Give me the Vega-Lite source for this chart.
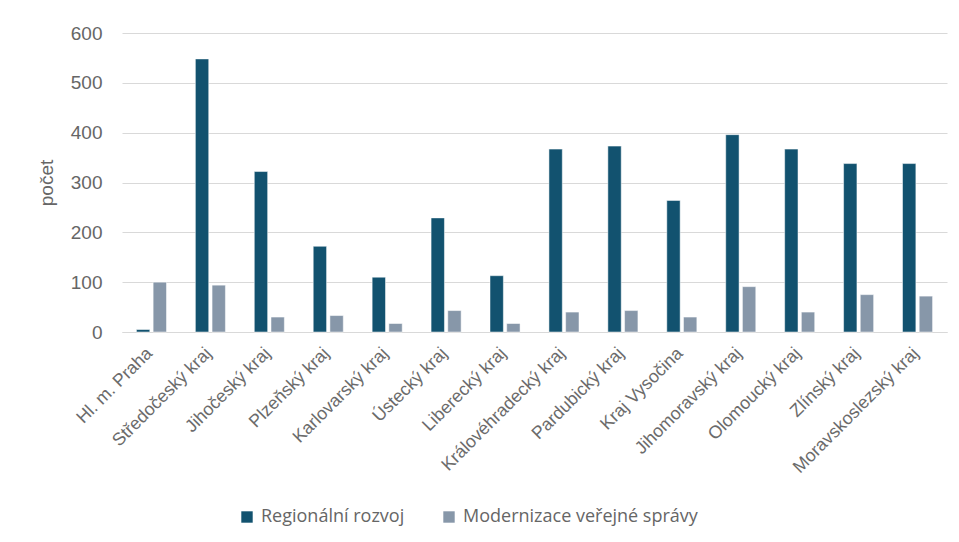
{
  "$schema": "https://vega.github.io/schema/vega-lite/v6.json",
  "autosize": "none",
  "width": 825,
  "height": 299,
  "padding": {"left": 122, "top": 33, "right": 12, "bottom": 210},
  "background": "white",
  "data": {
    "values": [
      {"kraj": "Hl. m. Praha", "serie": "Regionální rozvoj", "pocet": 5},
      {"kraj": "Hl. m. Praha", "serie": "Modernizace veřejné správy", "pocet": 100},
      {"kraj": "Středočeský kraj", "serie": "Regionální rozvoj", "pocet": 548},
      {"kraj": "Středočeský kraj", "serie": "Modernizace veřejné správy", "pocet": 94},
      {"kraj": "Jihočeský kraj", "serie": "Regionální rozvoj", "pocet": 322},
      {"kraj": "Jihočeský kraj", "serie": "Modernizace veřejné správy", "pocet": 30},
      {"kraj": "Plzeňský kraj", "serie": "Regionální rozvoj", "pocet": 172},
      {"kraj": "Plzeňský kraj", "serie": "Modernizace veřejné správy", "pocet": 33},
      {"kraj": "Karlovarský kraj", "serie": "Regionální rozvoj", "pocet": 110},
      {"kraj": "Karlovarský kraj", "serie": "Modernizace veřejné správy", "pocet": 17},
      {"kraj": "Ústecký kraj", "serie": "Regionální rozvoj", "pocet": 229},
      {"kraj": "Ústecký kraj", "serie": "Modernizace veřejné správy", "pocet": 43},
      {"kraj": "Liberecký kraj", "serie": "Regionální rozvoj", "pocet": 113},
      {"kraj": "Liberecký kraj", "serie": "Modernizace veřejné správy", "pocet": 17},
      {"kraj": "Královéhradecký kraj", "serie": "Regionální rozvoj", "pocet": 367},
      {"kraj": "Královéhradecký kraj", "serie": "Modernizace veřejné správy", "pocet": 40},
      {"kraj": "Pardubický kraj", "serie": "Regionální rozvoj", "pocet": 373},
      {"kraj": "Pardubický kraj", "serie": "Modernizace veřejné správy", "pocet": 43},
      {"kraj": "Kraj Vysočina", "serie": "Regionální rozvoj", "pocet": 264},
      {"kraj": "Kraj Vysočina", "serie": "Modernizace veřejné správy", "pocet": 30},
      {"kraj": "Jihomoravský kraj", "serie": "Regionální rozvoj", "pocet": 396},
      {"kraj": "Jihomoravský kraj", "serie": "Modernizace veřejné správy", "pocet": 91},
      {"kraj": "Olomoucký kraj", "serie": "Regionální rozvoj", "pocet": 367},
      {"kraj": "Olomoucký kraj", "serie": "Modernizace veřejné správy", "pocet": 40},
      {"kraj": "Zlínský kraj", "serie": "Regionální rozvoj", "pocet": 338},
      {"kraj": "Zlínský kraj", "serie": "Modernizace veřejné správy", "pocet": 75},
      {"kraj": "Moravskoslezský kraj", "serie": "Regionální rozvoj", "pocet": 338},
      {"kraj": "Moravskoslezský kraj", "serie": "Modernizace veřejné správy", "pocet": 72}
    ]
  },
  "mark": {"type": "bar", "stroke": "white", "strokeWidth": 0.5},
  "encoding": {
    "x": {
      "field": "kraj",
      "type": "nominal",
      "sort": null,
      "title": null,
      "scale": {"paddingInner": 0.49, "paddingOuter": 0.245},
      "axis": {
        "labelAngle": -45,
        "labelFont": "Liberation Sans",
        "labelFontSize": 17.8,
        "labelColor": "#6b6b6b",
        "labelPadding": 12,
        "labelOffset": -8,
        "labelLimit": 0,
        "ticks": false,
        "domainColor": "#d9d9d9",
        "domainWidth": 1,
        "grid": false
      }
    },
    "xOffset": {
      "field": "serie",
      "type": "nominal",
      "sort": ["Regionální rozvoj", "Modernizace veřejné správy"],
      "scale": {"paddingInner": 0.2}
    },
    "y": {
      "field": "pocet",
      "type": "quantitative",
      "title": "počet",
      "scale": {"domain": [0, 600]},
      "axis": {
        "values": [0, 100, 200, 300, 400, 500, 600],
        "labelFont": "Liberation Sans",
        "labelFontSize": 19,
        "labelColor": "#666666",
        "labelPadding": 20,
        "ticks": false,
        "domain": false,
        "gridColor": "#d9d9d9",
        "titleFont": "Liberation Sans",
        "titleFontSize": 19,
        "titleFontWeight": "normal",
        "titleColor": "#666666",
        "titlePadding": 14
      }
    },
    "color": {
      "field": "serie",
      "type": "nominal",
      "sort": ["Regionální rozvoj", "Modernizace veřejné správy"],
      "scale": {
        "domain": ["Regionální rozvoj", "Modernizace veřejné správy"],
        "range": ["#12526f", "#8797a9"]
      },
      "legend": {
        "title": null,
        "orient": "none",
        "direction": "horizontal",
        "legendX": 116,
        "legendY": 475,
        "symbolType": "square",
        "symbolSize": 130,
        "symbolStrokeWidth": 0,
        "labelFont": "Open Sans",
        "labelFontSize": 18,
        "labelColor": "#666666",
        "labelLimit": 0,
        "columnPadding": 35,
        "labelOffset": 5
      }
    }
  },
  "config": {"view": {"stroke": null}}
}
